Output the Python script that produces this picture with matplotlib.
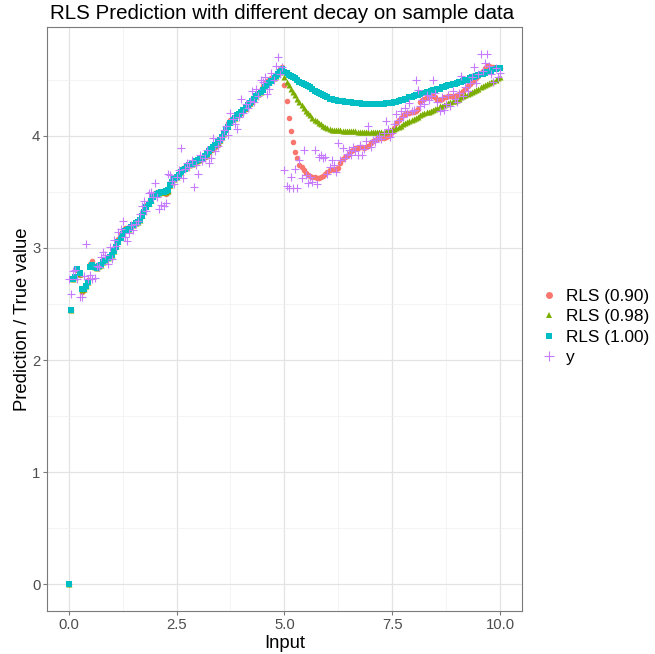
import numpy as np
import matplotlib
matplotlib.use("Agg")
import matplotlib.pyplot as plt
from matplotlib.lines import Line2D

plt.rcParams['font.family'] = ['Liberation Sans', 'DejaVu Sans']

# ==========================================
# DATA
# ==========================================
x = np.linspace(0, 10, 201)

rls_090 = [
    0.00, 2.45, 2.72, 2.74, 2.80, 2.76, 2.61, 2.62, 2.66, 2.71,
    2.86, 2.88, 2.84, 2.82, 2.84, 2.86, 2.88, 2.90, 2.92, 2.93,
    2.95, 2.98, 3.03, 3.08, 3.12, 3.16, 3.18, 3.18, 3.18, 3.19,
    3.20, 3.22, 3.24, 3.26, 3.30, 3.34, 3.38, 3.41, 3.44, 3.47,
    3.49, 3.50, 3.50, 3.50, 3.49, 3.48, 3.50, 3.55, 3.59, 3.62,
    3.64, 3.66, 3.69, 3.71, 3.72, 3.73, 3.75, 3.76, 3.76, 3.77,
    3.77, 3.78, 3.79, 3.81, 3.83, 3.85, 3.87, 3.88, 3.90, 3.92,
    3.95, 3.99, 4.03, 4.07, 4.11, 4.14, 4.16, 4.17, 4.18, 4.19,
    4.20, 4.22, 4.24, 4.26, 4.28, 4.30, 4.33, 4.35, 4.38, 4.41,
    4.44, 4.47, 4.49, 4.50, 4.51, 4.52, 4.54, 4.56, 4.59, 4.61,
    4.45, 4.31, 4.16, 4.04, 3.94, 3.85, 3.80, 3.74, 3.72, 3.69,
    3.67, 3.65, 3.64, 3.63, 3.63, 3.62, 3.62, 3.63, 3.64, 3.66,
    3.68, 3.69, 3.70, 3.70, 3.70, 3.71, 3.76, 3.79, 3.81, 3.82,
    3.84, 3.86, 3.87, 3.89, 3.89, 3.90, 3.90, 3.89, 3.90, 3.91,
    3.93, 3.95, 3.96, 3.97, 3.98, 3.98, 3.98, 3.99, 4.00, 4.01,
    4.03, 4.07, 4.11, 4.14, 4.16, 4.18, 4.19, 4.20, 4.20, 4.21,
    4.21, 4.22, 4.24, 4.30, 4.32, 4.33, 4.34, 4.35, 4.35, 4.35,
    4.34, 4.32, 4.32, 4.33, 4.34, 4.34, 4.35, 4.35, 4.35, 4.35,
    4.36, 4.37, 4.38, 4.40, 4.42, 4.44, 4.46, 4.48, 4.49, 4.51,
    4.53, 4.56, 4.58, 4.60, 4.62, 4.62, 4.61, 4.61, 4.60, 4.60,
    4.60,
]

rls_098 = [
    0.00, 2.45, 2.72, 2.74, 2.81, 2.77, 2.62, 2.63, 2.66, 2.70,
    2.84, 2.86, 2.83, 2.82, 2.84, 2.85, 2.87, 2.89, 2.91, 2.92,
    2.94, 2.97, 3.02, 3.06, 3.10, 3.13, 3.16, 3.17, 3.17, 3.19,
    3.20, 3.22, 3.23, 3.25, 3.29, 3.33, 3.37, 3.40, 3.43, 3.46,
    3.48, 3.49, 3.49, 3.50, 3.50, 3.50, 3.51, 3.56, 3.59, 3.61,
    3.63, 3.65, 3.68, 3.70, 3.71, 3.72, 3.74, 3.75, 3.76, 3.77,
    3.78, 3.79, 3.80, 3.82, 3.84, 3.86, 3.88, 3.90, 3.92, 3.94,
    3.96, 3.99, 4.02, 4.06, 4.09, 4.12, 4.15, 4.16, 4.18, 4.19,
    4.21, 4.23, 4.25, 4.27, 4.29, 4.31, 4.33, 4.35, 4.37, 4.39,
    4.42, 4.44, 4.46, 4.48, 4.50, 4.51, 4.53, 4.55, 4.57, 4.59,
    4.52, 4.48, 4.45, 4.42, 4.39, 4.36, 4.33, 4.30, 4.27, 4.25,
    4.22, 4.20, 4.18, 4.16, 4.14, 4.13, 4.11, 4.10, 4.09, 4.08,
    4.07, 4.06, 4.05, 4.05, 4.05, 4.05, 4.05, 4.04, 4.04, 4.04,
    4.04, 4.04, 4.04, 4.04, 4.03, 4.03, 4.03, 4.03, 4.03, 4.03,
    4.03, 4.03, 4.03, 4.03, 4.03, 4.03, 4.03, 4.04, 4.04, 4.05,
    4.05, 4.06, 4.07, 4.08, 4.09, 4.10, 4.11, 4.12, 4.13, 4.14,
    4.15, 4.16, 4.17, 4.18, 4.19, 4.20, 4.21, 4.21, 4.22, 4.23,
    4.24, 4.25, 4.26, 4.26, 4.27, 4.28, 4.29, 4.30, 4.31, 4.31,
    4.32, 4.33, 4.34, 4.35, 4.36, 4.37, 4.38, 4.39, 4.40, 4.41,
    4.42, 4.43, 4.44, 4.45, 4.46, 4.47, 4.48, 4.49, 4.50, 4.51,
    4.52,
]

rls_100 = [
    0.00, 2.45, 2.72, 2.74, 2.81, 2.78, 2.63, 2.63, 2.66, 2.70,
    2.83, 2.85, 2.83, 2.82, 2.84, 2.85, 2.87, 2.89, 2.91, 2.92,
    2.94, 2.97, 3.01, 3.05, 3.09, 3.12, 3.15, 3.16, 3.17, 3.19,
    3.20, 3.22, 3.23, 3.25, 3.28, 3.32, 3.36, 3.39, 3.42, 3.45,
    3.47, 3.48, 3.49, 3.50, 3.50, 3.51, 3.52, 3.56, 3.59, 3.61,
    3.63, 3.65, 3.68, 3.69, 3.70, 3.72, 3.74, 3.75, 3.76, 3.77,
    3.78, 3.79, 3.80, 3.82, 3.84, 3.86, 3.88, 3.90, 3.92, 3.94,
    3.96, 3.99, 4.02, 4.05, 4.08, 4.11, 4.14, 4.16, 4.18, 4.19,
    4.21, 4.23, 4.25, 4.27, 4.29, 4.31, 4.33, 4.35, 4.37, 4.39,
    4.41, 4.43, 4.45, 4.47, 4.49, 4.51, 4.53, 4.55, 4.57, 4.59,
    4.57, 4.56, 4.54, 4.53, 4.52, 4.51, 4.50, 4.48, 4.47, 4.46,
    4.45, 4.44, 4.43, 4.42, 4.40, 4.39, 4.38, 4.37, 4.36, 4.35,
    4.34, 4.33, 4.33, 4.32, 4.32, 4.31, 4.31, 4.31, 4.30, 4.30,
    4.30, 4.30, 4.29, 4.29, 4.29, 4.29, 4.28, 4.28, 4.28, 4.28,
    4.28, 4.28, 4.28, 4.28, 4.28, 4.28, 4.28, 4.29, 4.29, 4.29,
    4.29, 4.30, 4.30, 4.31, 4.32, 4.32, 4.33, 4.33, 4.34, 4.34,
    4.35, 4.36, 4.36, 4.37, 4.38, 4.38, 4.39, 4.39, 4.40, 4.41,
    4.41, 4.42, 4.42, 4.43, 4.43, 4.44, 4.45, 4.45, 4.46, 4.46,
    4.47, 4.48, 4.48, 4.49, 4.50, 4.50, 4.51, 4.52, 4.52, 4.53,
    4.54, 4.55, 4.55, 4.56, 4.57, 4.57, 4.58, 4.59, 4.59, 4.60,
    4.60,
]

y_true = [
    2.72, 2.59, 2.79, 2.80, 2.72, 2.56, 2.56, 2.75, 3.03, 2.72,
    2.76, 2.72, 2.73, 2.84, 2.83, 2.92, 2.96, 2.94, 2.86, 3.01,
    2.90, 3.07, 3.02, 3.14, 3.17, 3.24, 3.10, 3.06, 3.13, 3.20,
    3.16, 3.21, 3.24, 3.30, 3.37, 3.42, 3.33, 3.49, 3.50, 3.45,
    3.58, 3.45, 3.35, 3.38, 3.37, 3.40, 3.66, 3.65, 3.60, 3.57,
    3.63, 3.69, 3.89, 3.62, 3.70, 3.76, 3.72, 3.78, 3.54, 3.74,
    3.66, 3.83, 3.77, 3.80, 3.87, 3.76, 3.80, 3.98, 3.86, 3.91,
    3.96, 3.99, 4.05, 4.09, 4.01, 4.20, 4.15, 4.10, 4.06, 4.17,
    4.33, 4.20, 4.28, 4.25, 4.31, 4.40, 4.30, 4.42, 4.35, 4.50,
    4.48, 4.52, 4.37, 4.42, 4.56, 4.50, 4.62, 4.70, 4.55, 4.61,
    3.69, 3.55, 3.53, 3.63, 3.53, 3.70, 3.53, 3.78, 3.62, 3.87,
    3.65, 3.58, 3.63, 3.59, 3.87, 3.57, 3.81, 3.83, 3.80, 3.81,
    3.66, 3.72, 3.78, 3.74, 3.68, 3.93, 3.78, 3.89, 3.80, 3.84,
    3.87, 3.83, 3.90, 3.86, 3.83, 3.92, 3.83, 3.88, 3.95, 4.09,
    3.90, 3.96, 3.94, 3.98, 4.00, 3.97, 4.02, 4.13, 4.06, 3.99,
    4.02, 4.10, 4.19, 4.14, 4.22, 4.17, 4.25, 4.20, 4.29, 4.22,
    4.23, 4.50, 4.41, 4.26, 4.32, 4.28, 4.36, 4.32, 4.35, 4.50,
    4.38, 4.30, 4.22, 4.34, 4.23, 4.28, 4.36, 4.26, 4.40, 4.33,
    4.30, 4.38, 4.53, 4.35, 4.43, 4.40, 4.47, 4.52, 4.61, 4.47,
    4.55, 4.73, 4.58, 4.65, 4.73, 4.62, 4.55, 4.48, 4.60, 4.52,
    4.56,
]

labels = ['RLS (0.90)', 'RLS (0.98)', 'RLS (1.00)', 'y']
colors = ['#F8766D', '#7CAE00', '#00BFC4', '#C77CFF']
markers = ['o', '^', 's', '+']

# ==========================================
# PLOT
# ==========================================
fig = plt.figure(figsize=(6.55, 6.54), dpi=100)
W, H = 655, 654
ax = fig.add_axes([47.2 / W, (H - 611) / H, (521.5 - 47.2) / W, (611 - 27.2) / H])

series = [rls_090, rls_098, rls_100, y_true]
sizes = [16, 19, 17, 36]
for vals, lab, col, mk, s in zip(series, labels, colors, markers, sizes):
    if mk == '+':
        ax.scatter(x, vals, s=s, marker=mk, color=col, linewidths=0.8, label=lab, zorder=3)
    else:
        ax.scatter(x, vals, s=s, marker=mk, color=col, linewidths=0, label=lab, zorder=3)

ax.set_xlim(-0.5, 10.5)
ax.set_ylim(-0.2365, 4.9665)
ax.set_xticks([0, 2.5, 5, 7.5, 10])
ax.set_xticklabels(['0.0', '2.5', '5.0', '7.5', '10.0'])
ax.set_xticks([1.25, 3.75, 6.25, 8.75], minor=True)
ax.set_yticks([0, 1, 2, 3, 4])
ax.set_yticks([0.5, 1.5, 2.5, 3.5, 4.5], minor=True)

ax.grid(which='major', color='#E3E3E3', linewidth=0.9, zorder=0)
ax.grid(which='minor', color='#F0F0F0', linewidth=0.5, zorder=0)
ax.set_axisbelow(True)
for sp in ax.spines.values():
    sp.set_color('#7A7A7A')
    sp.set_linewidth(0.8)
ax.tick_params(which='major', length=3, width=0.8, color='#7A7A7A',
               labelsize=10.7, labelcolor='#4D4D4D', pad=2)
ax.tick_params(which='minor', length=0)

ax.set_xlabel('Input', fontsize=13.3, labelpad=2)
ax.set_ylabel('Prediction / True value', fontsize=13.3, labelpad=0.5)
ax.set_title('RLS Prediction with different decay on sample data',
             fontsize=14.8, loc='left', pad=6, x=0.005)

handles = [Line2D([], [], linestyle='none', marker=m, color=c,
                  markersize=(5 if m != '+' else 7), markeredgewidth=(0 if m != '+' else 0.8))
           for m, c in zip(markers, colors)]
fig.legend(handles, labels, loc='center left', bbox_to_anchor=(540 / W, 0.5),
           frameon=False, fontsize=12.4, handlelength=1.0, handletextpad=0.5,
           labelspacing=0.3, borderpad=0, borderaxespad=0)

plt.savefig('out.png', dpi=100)
